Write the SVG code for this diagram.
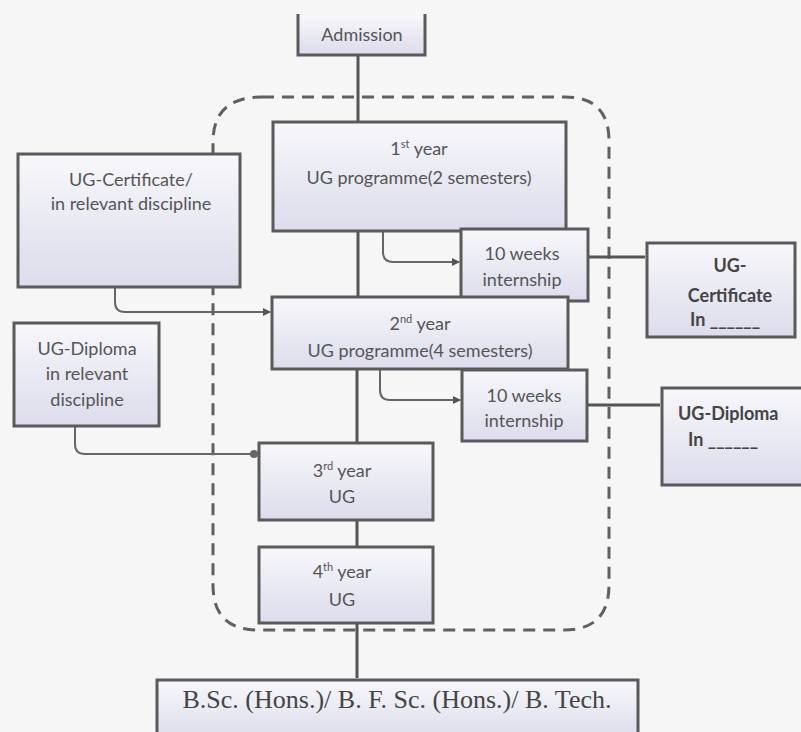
<svg xmlns="http://www.w3.org/2000/svg" width="801" height="732" viewBox="0 0 801 732">
<defs>
<linearGradient id="g" x1="0" y1="0" x2="0" y2="1">
<stop offset="0" stop-color="#f7f7fb"/>
<stop offset="0.45" stop-color="#ebebf4"/>
<stop offset="1" stop-color="#dcdcec"/>
</linearGradient>
<marker id="arr" markerWidth="8" markerHeight="8" refX="7" refY="4" orient="auto" markerUnits="userSpaceOnUse">
<path d="M0,0 L8,4 L0,8 Z" fill="#555"/>
</marker>
<marker id="dot" markerWidth="10" markerHeight="10" refX="5" refY="5" orient="auto" markerUnits="userSpaceOnUse">
<circle cx="5" cy="5" r="4" fill="#666"/>
</marker>
</defs>
<style>
.box{fill:url(#g);stroke:#5a5a5a;stroke-width:3}
.t{font-family:Lato,"Liberation Sans",sans-serif;font-size:18px;fill:#555;text-anchor:middle}
.b{font-weight:bold;fill:#444}
.l{text-anchor:start}
.c{fill:none;stroke:#555;stroke-width:3}
.c2{fill:none;stroke:#666;stroke-width:2}
.dash{fill:none;stroke:#606060;stroke-width:3;stroke-dasharray:12,8}
.s{font-size:11px}
</style>
<rect width="801" height="732" fill="#f6f6f6"/>

<path class="dash" d="M262,97 L565,97 Q609,97 609,141 L609,585 Q609,630 564,630 L258,630 Q213,630 213,585 L213,142 Q213,97 262,97 Z"/>

<g id="connectors">
<line class="c" x1="358" y1="55" x2="358" y2="121"/>
<line class="c" x1="358" y1="231" x2="358" y2="296"/>
<path class="c2" d="M383,232 L383,252 Q383,262 393,262 L459,262" marker-end="url(#arr)"/>
<line class="c" x1="588" y1="257" x2="645" y2="257"/>
<path class="c2" d="M115,287 L115,302 Q115,312 125,312 L270,312" marker-end="url(#arr)"/>
<line class="c" x1="357" y1="369" x2="357" y2="442"/>
<path class="c2" d="M380,370 L380,390 Q380,400 390,400 L460,400" marker-end="url(#arr)"/>
<line class="c" x1="587" y1="405" x2="660" y2="405"/>
<path class="c2" d="M75,427 L75,444 Q75,454 85,454 L254,454" marker-end="url(#dot)"/>
<line class="c" x1="357" y1="520" x2="357" y2="546"/>
<line class="c" x1="357" y1="623" x2="357" y2="678"/>
</g>

<g id="admission">
<path d="M298,14 L298,55 L425,55 L425,14" fill="url(#g)" stroke="#5a5a5a" stroke-width="3"/>
<text class="t" x="362" y="41">Admission</text>
</g>

<g id="year1">
<rect class="box" x="273" y="122" width="293" height="109"/>
<text class="t" x="419" y="155">1<tspan class="s" dy="-7">st</tspan><tspan dy="7"> year</tspan></text>
<text class="t" x="419" y="184">UG programme(2 semesters)</text>
</g>

<g id="intern1">
<rect class="box" x="461" y="229" width="127" height="72"/>
<text class="t" x="522" y="260">10 weeks</text>
<text class="t" x="522" y="286">internship</text>
</g>

<g id="ugcert-out">
<rect class="box" x="647" y="243" width="148" height="94"/>
<text class="t b" x="730" y="272">UG-</text>
<text class="t b" x="730" y="302">Certificate</text>
<text class="t b l" x="690" y="326">In ______</text>
</g>

<g id="ugcert-in">
<rect class="box" x="18" y="154" width="222" height="133"/>
<text class="t" x="131" y="186">UG-Certificate/</text>
<text class="t" x="131" y="210">in relevant discipline</text>
</g>

<g id="year2">
<rect class="box" x="272" y="297" width="296" height="72"/>
<text class="t" x="420" y="330">2<tspan class="s" dy="-7">nd</tspan><tspan dy="7"> year</tspan></text>
<text class="t" x="420" y="357">UG programme(4 semesters)</text>
</g>

<g id="intern2">
<rect class="box" x="462" y="370" width="125" height="71"/>
<text class="t" x="524" y="402">10 weeks</text>
<text class="t" x="524" y="427">internship</text>
</g>

<g id="ugdip-out">
<rect class="box" x="662" y="388" width="145" height="97"/>
<text class="t b l" x="678" y="420">UG-Diploma</text>
<text class="t b l" x="688" y="446">In ______</text>
</g>

<g id="ugdip-in">
<rect class="box" x="14" y="323" width="145" height="103"/>
<text class="t" x="87" y="355">UG-Diploma</text>
<text class="t" x="87" y="380">in relevant</text>
<text class="t" x="87" y="406">discipline</text>
</g>

<g id="year3">
<rect class="box" x="259" y="443" width="174" height="77"/>
<text class="t" x="342" y="477">3<tspan class="s" dy="-7">rd</tspan><tspan dy="7"> year</tspan></text>
<text class="t" x="342" y="503">UG</text>
</g>

<g id="year4">
<rect class="box" x="259" y="547" width="174" height="76"/>
<text class="t" x="342" y="578">4<tspan class="s" dy="-7">th</tspan><tspan dy="7"> year</tspan></text>
<text class="t" x="342" y="606">UG</text>
</g>

<g id="degree">
<rect class="box" x="157" y="680" width="481" height="60"/>
<text x="397" y="708" text-anchor="middle" font-family="Liberation Serif, serif" font-size="26" fill="#444">B.Sc. (Hons.)/ B. F. Sc. (Hons.)/ B. Tech.</text>
</g>
</svg>
